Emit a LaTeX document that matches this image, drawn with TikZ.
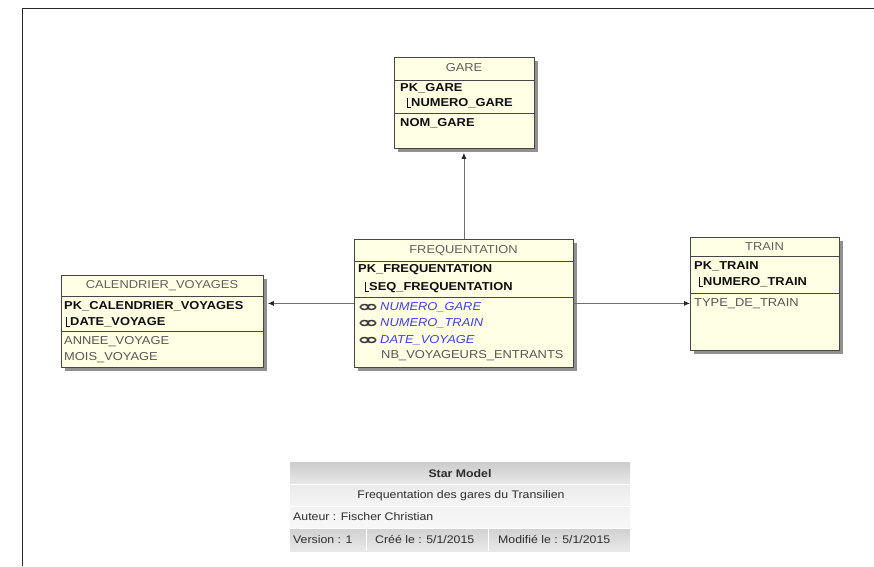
\documentclass[tikz,border=0pt]{standalone}
\usepackage{fontspec}
\setmainfont{Liberation Sans}[FakeStretch=1.12]
\usetikzlibrary{arrows.meta,shadows}
\definecolor{cream}{RGB}{255,255,228}
\definecolor{bordc}{RGB}{70,70,70}
\definecolor{shadc}{RGB}{145,145,145}
\definecolor{hdrc}{RGB}{95,95,95}
\definecolor{fkc}{RGB}{64,64,230}
\definecolor{attc}{RGB}{85,85,85}
\definecolor{chainc}{RGB}{60,60,60}
\definecolor{keyc}{RGB}{15,15,15}
\definecolor{legtxt}{RGB}{45,45,45}
\definecolor{framec}{RGB}{40,40,40}
\definecolor{connc}{RGB}{110,110,110}
\newcommand\pkcorner[2]{\draw[corner] (#1,#2-5) -- (#1,#2+4) -- (#1+4,#2+4);}
\newcommand\fkchain[2]{\draw[chain] (#1+4.5,#2) ellipse [x radius=4.2pt, y radius=2.5pt];
  \draw[chain] (#1+11.5,#2) ellipse [x radius=4.2pt, y radius=2.5pt];}
\begin{document}
\begin{tikzpicture}[x=1pt,y=-1pt,
  tbl/.style={draw=bordc, fill=cream, line width=0.8pt, anchor=north west, inner sep=0pt,
    drop shadow={shadow xshift=4pt, shadow yshift=-4pt, fill=shadc, opacity=1}},
  sep/.style={draw=bordc, line width=0.7pt},
  txt/.style={font=\fontsize{11.5}{13}\selectfont, inner sep=0pt, text height=8pt, text depth=1pt},
  hdr/.style={txt, text=hdrc},
  key/.style={txt, font=\fontsize{11.5}{13}\selectfont\bfseries, text=keyc, anchor=west},
  att/.style={txt, text=attc, anchor=west},
  fk/.style={txt, font=\fontsize{11.5}{13}\selectfont\itshape, text=fkc, anchor=west},
  corner/.style={draw=keyc, line width=0.6pt},
  chain/.style={draw=chainc, line width=1.5pt},
  conn/.style={draw=connc, line width=0.8pt, -{Latex[length=6pt,width=5pt,color=black!85]}},
  leg/.style={txt, font=\fontsize{11}{13}\selectfont, text=legtxt},
]
\useasboundingbox (0,0) rectangle (874,566);
\fill[white] (0,0) rectangle (874,566);
% frame
\draw[framec, line width=1pt] (22,566) -- (22,8) -- (874,8);

% ---------- GARE ----------
\node[tbl, minimum width=140pt, minimum height=91pt] (gare) at (394,57) {};
\draw[sep] (394,80) -- (534,80);
\draw[sep] (394,113) -- (534,113);
\node[hdr] (gareh) at (464,68) {GARE};
\node[key] (garepk) at (400,88) {PK\_GARE};
\pkcorner{407}{103}
\node[key] (garek) at (411,103) {NUMERO\_GARE};
\node[key] (garenom) at (400,123) {NOM\_GARE};

% ---------- FREQUENTATION ----------
\node[tbl, minimum width=219pt, minimum height=128pt] (freq) at (354,239) {};
\draw[sep] (354,261) -- (573,261);
\draw[sep] (354,297) -- (573,297);
\node[hdr] (freqh) at (463.5,250) {FREQUENTATION};
\node[key] (freqpk) at (358,269) {PK\_FREQUENTATION};
\pkcorner{365}{287}
\node[key] (freqk) at (369,287) {SEQ\_FREQUENTATION};
\fkchain{360}{307}
\node[fk] (freqf1) at (380,307) {NUMERO\_GARE};
\fkchain{360}{323}
\node[fk] (freqf2) at (380,323) {NUMERO\_TRAIN};
\fkchain{360}{340}
\node[fk] (freqf3) at (380,340) {DATE\_VOYAGE};
\node[att] (freqa) at (381,355) {NB\_VOYAGEURS\_ENTRANTS};

% ---------- CALENDRIER_VOYAGES ----------
\node[tbl, minimum width=202pt, minimum height=92pt] (cal) at (61,275) {};
\draw[sep] (61,296) -- (263,296);
\draw[sep] (61,331) -- (263,331);
\node[hdr] (calh) at (162,285) {CALENDRIER\_VOYAGES};
\node[key] (calpk) at (64,306) {PK\_CALENDRIER\_VOYAGES};
\pkcorner{66}{322}
\node[key] (calk) at (70,322) {DATE\_VOYAGE};
\node[att] (cala1) at (64,341) {ANNEE\_VOYAGE};
\node[att] (cala2) at (64,357) {MOIS\_VOYAGE};

% ---------- TRAIN ----------
\node[tbl, minimum width=149pt, minimum height=113pt] (train) at (690,237) {};
\draw[sep] (690,256) -- (839,256);
\draw[sep] (690,293) -- (839,293);
\node[hdr] (trainh) at (764.5,247) {TRAIN};
\node[key] (trainpk) at (694,266) {PK\_TRAIN};
\pkcorner{699}{282}
\node[key] (traink) at (703,282) {NUMERO\_TRAIN};
\node[att] (traina) at (694,303) {TYPE\_DE\_TRAIN};

% ---------- connectors ----------
\draw[conn, shorten >=4pt] (freq.north) -- (freq.north |- gare.south);
\draw[conn, shorten >=4pt] (freq.west) -- (freq.west -| cal.east);
\draw[conn] (freq.east) -- (freq.east -| train.west);

% ---------- legend ----------
\shade[top color=black!20, bottom color=black!9] (290,462) rectangle (630,484);
\shade[top color=black!8, bottom color=black!4] (290,484) rectangle (630,506);
\shade[top color=black!5, bottom color=black!3] (290,506) rectangle (630,528);
\shade[top color=black!18, bottom color=black!9] (290,528) rectangle (630,551);
\draw[white, line width=0.8pt] (290,484) -- (630,484) (290,506) -- (630,506) (290,528) -- (630,528);
\draw[white, line width=1pt] (366,528) -- (366,551) (488,528) -- (488,551);
\node[leg, font=\fontsize{11}{13}\selectfont\bfseries] (legt) at (460,474) {Star Model};
\node[leg] (legd) at (461,495) {Frequentation des gares du Transilien};
\node[leg, anchor=west] (lega) at (293,517) {Auteur : Fischer Christian};
\node[leg, anchor=west] (legv) at (293,540) {Version : 1};
\node[leg, anchor=west] (legc) at (375,540) {Créé le : 5/1/2015};
\node[leg, anchor=west] (legm) at (498,540) {Modifié le : 5/1/2015};
\end{tikzpicture}
\end{document}
